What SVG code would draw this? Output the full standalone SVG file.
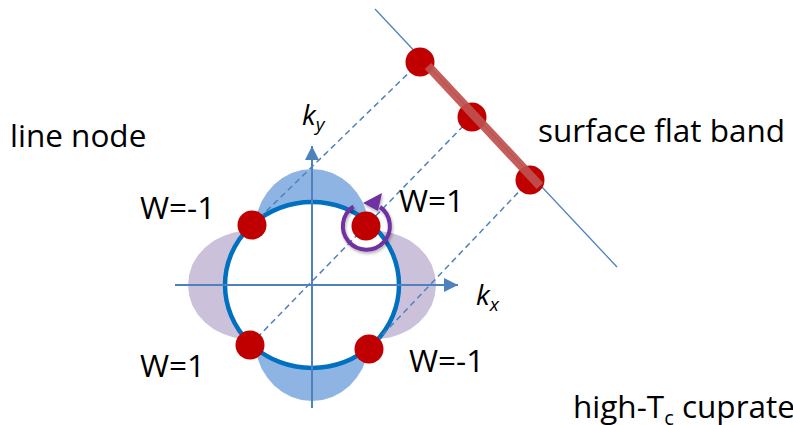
<svg xmlns="http://www.w3.org/2000/svg" width="793" height="425" viewBox="0 0 793 425">
  <defs>
    <style>
      .lbl { font-family: "Open Sans", "Liberation Sans", sans-serif; font-size: 31.5px; fill: #000; }
      .k { font-family: "Open Sans", "Liberation Sans", sans-serif; font-style: italic; fill: #000; }
      .axis { stroke: #4F81BD; stroke-width: 2; fill: none; }
      .dash { stroke: #4F81BD; stroke-width: 1.5; stroke-dasharray: 6 4; fill: none; }
      .dot { fill: #C00000; }
      .blue { fill: #8EB4E3; }
      .purple { fill: #CCC1DA; }
    </style>
    <marker id="arr" markerUnits="userSpaceOnUse" markerWidth="16" markerHeight="16" refX="14" refY="7" orient="auto">
      <path d="M0,0 L14,7 L0,14 Z" fill="#4F81BD"/>
    </marker>
    <filter id="sh" x="-50%" y="-50%" width="200%" height="200%">
      <feDropShadow dx="1" dy="2" stdDeviation="1.5" flood-color="#000" flood-opacity="0.3"/>
    </filter>
  </defs>
  <rect width="793" height="425" fill="#fff"/>

  <g id="lobes">
    <polygon class="blue" points="312,285 368.7,222 366.2,210.9 362.3,201.3 356.8,192.5 349.9,184.5 341.7,178 332.4,173 322.4,169.9 312,169 301.6,169.9 291.6,173 282.3,178 274.1,184.5 267.2,192.5 261.7,201.3 257.8,210.9 255.3,222"/>
    <polygon class="blue" points="312,285 368.7,348 366.2,359.1 362.3,368.7 356.8,377.5 349.9,385.5 341.7,392 332.4,397 322.4,400.1 312,401 301.6,400.1 291.6,397 282.3,392 274.1,385.5 267.2,377.5 261.7,368.7 257.8,359.1 255.3,348"/>
    <polygon class="purple" points="312,285 246.3,230.5 244.6,231 233.8,232.6 223.5,235.9 213.7,240.8 205.1,247.4 197.8,255.4 192.4,264.6 189.2,274.6 188,285 189.2,295.4 192.4,305.4 197.8,314.6 205.1,322.6 213.7,329.2 223.5,334.1 233.8,337.4 244.6,339 246.3,339.5"/>
    <polygon class="purple" points="312,285 377.7,230.5 379.4,231 390.2,232.6 400.5,235.9 410.3,240.8 418.9,247.4 426.2,255.4 431.6,264.6 434.8,274.6 436,285 434.8,295.4 431.6,305.4 426.2,314.6 418.9,322.6 410.3,329.2 400.5,334.1 390.2,337.4 379.4,339 377.7,339.5"/>
  </g>
  <g id="fermi-surface">
    <ellipse cx="312" cy="285" rx="87" ry="83" fill="#fff" stroke="#0070C0" stroke-width="4.5"/>
  </g>

  <g id="axes">
    <line class="axis" x1="175" y1="285" x2="458" y2="285" marker-end="url(#arr)"/>
    <line class="axis" x1="312" y1="408" x2="312" y2="146" marker-end="url(#arr)"/>
  </g>

  <g id="connectors">
    <line class="dash" x1="252" y1="225" x2="420" y2="62"/>
    <line class="dash" x1="250" y1="345" x2="472" y2="117"/>
    <line class="dash" x1="369" y1="349" x2="530" y2="180"/>
  </g>

  <g id="surface">
    <line x1="375" y1="9" x2="617" y2="267" stroke="#4F81BD" stroke-width="1.3"/>
  </g>

  <g id="bulk-nodes">
    <circle class="dot" cx="252" cy="225" r="14.5"/>
    <circle class="dot" cx="366" cy="226" r="14.5"/>
    <circle class="dot" cx="250" cy="345" r="14.5"/>
    <circle class="dot" cx="369" cy="349" r="14.5"/>
  </g>

  <g id="surface-nodes">
    <circle class="dot" cx="420" cy="62" r="14.5"/>
    <circle class="dot" cx="472" cy="117" r="14.5"/>
    <circle class="dot" cx="530" cy="180" r="14.5"/>
  </g>

  <g id="flat-band">
    <line x1="428" y1="66" x2="540" y2="186" stroke="#C0504D" stroke-width="9" stroke-opacity="0.92"/>
  </g>

  <g id="winding" filter="url(#sh)">
    <path d="M353.5,206.5 A23.5,23.5 0 1 0 380,207" fill="none" stroke="#7030A0" stroke-width="4"/>
    <polygon points="363,203 382,193 378,211" fill="#7030A0"/>
  </g>

  <g id="labels">
    <text class="lbl" x="10" y="147">line node</text>
    <text class="lbl" x="538" y="142">surface flat band</text>
    <text class="lbl" x="140" y="219">W=-1</text>
    <text class="lbl" x="399" y="212">W=1</text>
    <text class="lbl" x="140" y="377">W=1</text>
    <text class="lbl" x="409" y="372">W=-1</text>
    <text class="lbl" x="573" y="418">high-T<tspan font-size="20" dy="7">c</tspan><tspan dy="-7"> cuprate</tspan></text>
    <text class="k" x="302" y="125" font-size="28">k<tspan font-size="19" dy="6">y</tspan></text>
    <text class="k" x="476" y="305" font-size="28">k<tspan font-size="19" dy="6">x</tspan></text>
  </g>
</svg>
